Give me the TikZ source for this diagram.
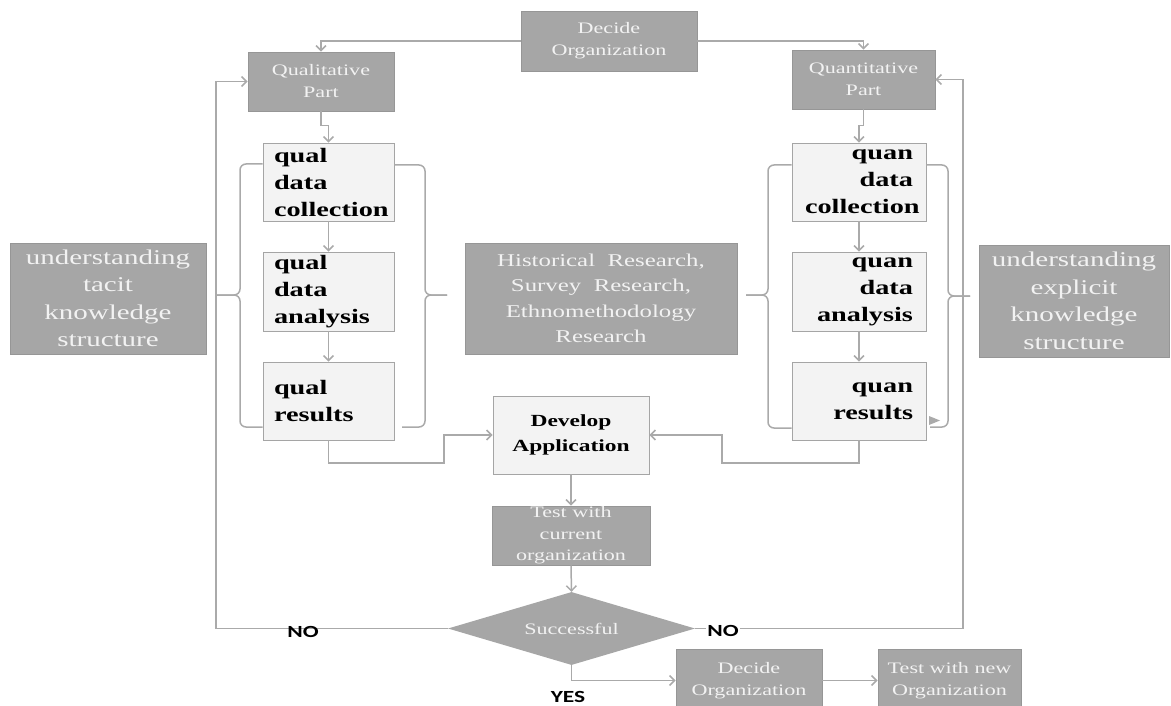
\documentclass[tikz,border=0pt]{standalone}
\usepackage{fontspec}
\usetikzlibrary{arrows.meta,shapes.geometric}
\newfontfamily\wide[FakeStretch=1.38]{Liberation Serif}
\newfontfamily\widesans[FakeStretch=1.38]{Carlito}
\definecolor{boxgrey}{RGB}{166,166,166}
\definecolor{boxedge}{RGB}{150,150,150}
\definecolor{boxtext}{RGB}{242,242,242}
\definecolor{lightfill}{RGB}{243,243,243}
\definecolor{lightedge}{RGB}{165,165,165}
\definecolor{linegrey}{RGB}{170,170,170}
\begin{document}
\begin{tikzpicture}[x=1pt,y=-1pt,
  greybox/.style={fill=boxgrey,draw=boxedge,line width=0.8pt,text=boxtext,
    align=center,inner sep=0pt,font=\wide\fontsize{16}{22}\selectfont},
  bigbox/.style={greybox,font=\wide\fontsize{21}{27.5}\selectfont},
  lightbox/.style={fill=lightfill,draw=lightedge,line width=0.8pt,text=black,
    inner sep=0pt,font=\wide\bfseries\fontsize{20.5}{27}\selectfont},
  conn/.style={draw=linegrey,line width=1.5pt,-{Straight Barb[length=5pt,width=10pt]}},
  link/.style={draw=linegrey,line width=1.5pt},
  brace/.style={draw=linegrey,line width=1.5pt,rounded corners=6pt},
  answer/.style={font=\widesans\bfseries\fontsize{17}{20}\selectfont,inner sep=1pt}]
\useasboundingbox (0,0) rectangle (1171,706);

% top decision and the two parts
\node[greybox,minimum width=176pt,minimum height=60pt] (dectop) at (609,41) {Decide\\Organization};
\node[greybox,minimum width=146pt,minimum height=59pt] (qualpart) at (321,81.5) {Qualitative\\Part};
\node[greybox,minimum width=143pt,minimum height=59pt] (quanpart) at (863.5,79.5) {Quantitative\\Part};

% qualitative column
\node[lightbox,minimum width=131pt,minimum height=78pt,text width=109pt,align=left] (qc) at (328.5,182) {qual\\data\\collection};
\node[lightbox,minimum width=131pt,minimum height=79pt,text width=109pt,align=left] (qa) at (328.5,291.5) {qual\\data\\analysis};
\node[lightbox,minimum width=131pt,minimum height=78pt,text width=109pt,align=left] (qr) at (328.5,401) {qual\\results};

% quantitative column
\node[lightbox,minimum width=134pt,minimum height=78pt,text width=108pt,align=right] (nc) at (859,182) {quan\\data\\collection};
\node[lightbox,minimum width=134pt,minimum height=79pt,text width=108pt,align=right] (na) at (859,291.5) {quan\\data\\analysis};
\node[lightbox,minimum width=134pt,minimum height=78pt,text width=108pt,align=right] (nr) at (859,401) {quan\\results};

% side and middle descriptions
\node[bigbox,minimum width=196pt,minimum height=111pt] (tacit) at (108,298.5) {understanding\\tacit\\knowledge\\structure};
\node[greybox,font=\wide\fontsize{18}{25.5}\selectfont,minimum width=272pt,minimum height=111pt] (hist) at (601,298.5) {Historical\ \ Research,\\Survey\ \ Research,\\Ethnomethodology\\Research};
\node[bigbox,minimum width=190pt,minimum height=112pt] (explicit) at (1074,301) {understanding\\explicit\\knowledge\\structure};

% application and test
\node[lightbox,font=\wide\bfseries\fontsize{17}{25}\selectfont,align=center,minimum width=156pt,minimum height=78pt] (dev) at (571,435) {Develop\\Application};
\node[greybox,font=\wide\fontsize{16}{21.5}\selectfont,minimum width=158pt,minimum height=59pt] (testcur) at (571,535.5) {Test with\\current\\organization};
\node[diamond,fill=boxgrey,text=boxtext,inner sep=0pt,shape aspect=3.38,
  minimum width=247pt,minimum height=73pt,font=\wide\fontsize{16}{20}\selectfont] (dia) at (571.5,628.5) {Successful};
\node[greybox,minimum width=146pt,minimum height=62pt] (decbot) at (749,680.5) {Decide\\Organization};
\node[greybox,minimum width=143pt,minimum height=62pt] (testnew) at (949.5,680.5) {Test with new\\Organization};

% connectors at the top
\draw[conn] (dectop.west) -| (qualpart.north);
\draw[conn] (dectop.east) -| (quanpart.north);
\draw[conn] (qualpart.south) -- ++(0,14) -| (qc.north);
\draw[conn] (quanpart.south) -- ++(0,16) -| (nc.north);

% column steps
\draw[conn] (qc.south) -- (qa.north);
\draw[conn] (qa.south) -- (qr.north);
\draw[conn] (nc.south) -- (na.north);
\draw[conn] (na.south) -- (nr.north);

% results into the application
\coordinate (jl) at (444,463);
\coordinate (jr) at (722,463);
\draw[conn] (qr.south) |- (jl) |- (dev.west);
\draw[conn] (nr.south) |- (jr) |- (dev.east);
\draw[conn] (dev.south) -- (testcur.north);
\draw[conn] (testcur.south) -- (dia.north);

% feedback loops
\coordinate (lc) at (216,628.5);
\coordinate (rc) at (963,628.5);
\draw[conn] (dia.west) -- (lc) |- (qualpart.west);
\draw[conn] (dia.east) -- (rc) |- (quanpart.east);
\draw[conn] (dia.south) |- (decbot.west);
\draw[conn] (decbot.east) -- (testnew.west);

% braces
\draw[brace] (qc.north west |- 0,164) -- (240,164) -- (240,295) -- (217,295);
\draw[brace] (qr.south west |- 0,427) -- (240,427) -- (240,295) -- (217,295);
\draw[brace] (qc.north east |- 0,165) -- (425,165) -- (425,295) -- (447,295);
\draw[brace] (402,427) -- (425,427) -- (425,295) -- (447,295);
\draw[brace] (nc.north west |- 0,165) -- (768,165) -- (768,295) -- (746,295);
\draw[brace] (nr.south west |- 0,428) -- (768,428) -- (768,295) -- (746,295);
\draw[brace] (nc.north east |- 0,165) -- (948,165) -- (948,296) -- (970,296);
\draw[brace] (930,427) -- (948,427) -- (948,296) -- (970,296);
\fill[linegrey] (929,416) -- (940,420.5) -- (929,425) -- cycle;

% answers
\node[answer] (nol) at (303,632) {NO};
\node[answer,fill=white] (nor) at (723,631) {NO};
\node[answer] (yes) at (568,697) {YES};
\end{tikzpicture}
\end{document}
